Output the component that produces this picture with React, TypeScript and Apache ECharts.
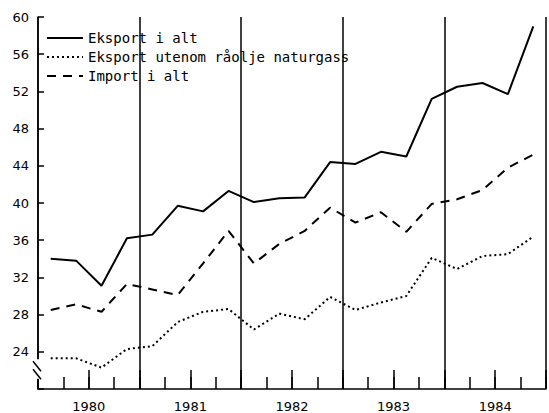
import React, { useEffect, useRef } from "react";
import * as echarts from "echarts";

const quarters = [
  "1980K1", "1980K2", "1980K3", "1980K4",
  "1981K1", "1981K2", "1981K3", "1981K4",
  "1982K1", "1982K2", "1982K3", "1982K4",
  "1983K1", "1983K2", "1983K3", "1983K4",
  "1984K1", "1984K2", "1984K3", "1984K4",
];
const years = ["1980", "1981", "1982", "1983", "1984"];
const seriesNames = ["Eksport i alt", "Eksport utenom råolje naturgass", "Import i alt"];

const eksportIAlt = [34.0, 33.8, 31.1, 36.2, 36.6, 39.7, 39.1, 41.3, 40.1, 40.5, 40.6, 44.4, 44.2, 45.5, 45.0, 51.2, 52.5, 52.9, 51.7, 59.0];
const eksportUtenom = [23.3, 23.3, 22.3, 24.3, 24.6, 27.2, 28.3, 28.6, 26.4, 28.1, 27.5, 29.9, 28.5, 29.3, 30.0, 34.1, 32.9, 34.3, 34.5, 36.4];
const importIAlt = [28.5, 29.1, 28.3, 31.3, 30.7, 30.1, 33.5, 37.0, 33.5, 35.6, 37.0, 39.5, 37.9, 39.0, 36.9, 39.9, 40.4, 41.4, 43.8, 45.2];

const yTicks = { min: 20, max: 60, step: 4 };

function toPoints(values: number[]) {
  return values.map((v, i) => [i + 0.5, v]);
}

export default function App() {
  const ref = useRef<HTMLDivElement>(null);
  useEffect(() => {
    if (!ref.current) return;
    const chart = echarts.init(ref.current, null, { renderer: "svg" });
    const black = "#000";
    const option: any = {
      animation: false,
      backgroundColor: "#fff",
      grid: { left: 38, right: 1, top: 17, bottom: 23, containLabel: false },
      legend: {
        orient: "vertical",
        left: 41,
        top: 26,
        itemWidth: 36,
        itemHeight: 14,
        itemGap: 5,
        data: seriesNames,
        itemStyle: { opacity: 0, borderWidth: 0 },
        textStyle: { fontFamily: "DejaVu Sans Mono", fontSize: 14, color: black },
      },
      xAxis: [
        {
          type: "value",
          min: 0,
          max: quarters.length,
          interval: 1,
          position: "bottom",
          axisLine: { show: true, lineStyle: { color: black, width: 1.5 } },
          axisTick: { show: true, inside: true, length: 12, lineStyle: { color: black, width: 1.5 } },
          axisLabel: { show: false },
          splitLine: { show: false },
        },
        {
          type: "value",
          min: 0,
          max: quarters.length,
          interval: 2,
          position: "bottom",
          axisLine: { show: false },
          axisTick: { show: true, inside: true, length: 19, lineStyle: { color: black, width: 1.5 } },
          axisLabel: {
            show: true,
            margin: 11,
            color: black,
            fontFamily: "DejaVu Sans",
            fontSize: 13,
            formatter: (v: number) => (v % 4 === 2 ? years[(v - 2) / 4] : ""),
          },
          splitLine: { show: false },
        },
        {
          type: "value",
          min: 0,
          max: quarters.length,
          interval: 4,
          position: "bottom",
          axisLine: { show: false },
          axisTick: { show: false },
          axisLabel: { show: false },
          splitLine: { show: true, lineStyle: { color: black, width: 1.5 } },
        },
      ],
      yAxis: {
        type: "value",
        min: yTicks.min,
        max: yTicks.max,
        interval: yTicks.step,
        axisLine: { show: true, lineStyle: { color: black, width: 1.5 } },
        axisTick: { show: true, inside: true, length: 6, lineStyle: { color: black, width: 1.5 } },
        axisLabel: {
          color: black,
          fontFamily: "DejaVu Sans",
          fontSize: 13,
          margin: 9,
          formatter: (v: number) => (v === yTicks.min ? "" : String(v)),
        },
        splitLine: { show: false },
      },
      series: [
        {
          name: seriesNames[0],
          type: "line",
          xAxisIndex: 0,
          data: toPoints(eksportIAlt),
          symbol: "none",
          lineStyle: { color: black, width: 2, type: "solid" },
          itemStyle: { color: black },
        },
        {
          name: seriesNames[1],
          type: "line",
          xAxisIndex: 0,
          data: toPoints(eksportUtenom),
          symbol: "none",
          lineStyle: { color: black, width: 2, type: [2, 3] },
          itemStyle: { color: black },
        },
        {
          name: seriesNames[2],
          type: "line",
          xAxisIndex: 0,
          data: toPoints(importIAlt),
          symbol: "none",
          lineStyle: { color: black, width: 2, type: [9, 7] },
          itemStyle: { color: black },
        },
      ],
    };
    chart.setOption(option);
    const ax = chart.convertToPixel({ xAxisIndex: 0 }, 0) as number;
    const yA = chart.convertToPixel({ yAxisIndex: 0 }, 23.2) as number;
    const yB = chart.convertToPixel({ yAxisIndex: 0 }, 21.1) as number;
    chart.setOption({
      graphic: [
        { type: "rect", shape: { x: ax - 3, y: yA, width: 6, height: yB - yA }, style: { fill: "#fff" }, z: 100 },
        { type: "line", shape: { x1: ax - 5, y1: yA + 2, x2: ax + 3, y2: yA + 12 }, style: { stroke: black, lineWidth: 1.5 }, z: 101 },
        { type: "line", shape: { x1: ax - 5, y1: yA + 10, x2: ax + 3, y2: yA + 20 }, style: { stroke: black, lineWidth: 1.5 }, z: 101 },
      ],
    });
    return () => chart.dispose();
  }, []);
  return <div ref={ref} style={{ position: "absolute", left: 0, top: 0, width: 549, height: 413 }} />;
}
